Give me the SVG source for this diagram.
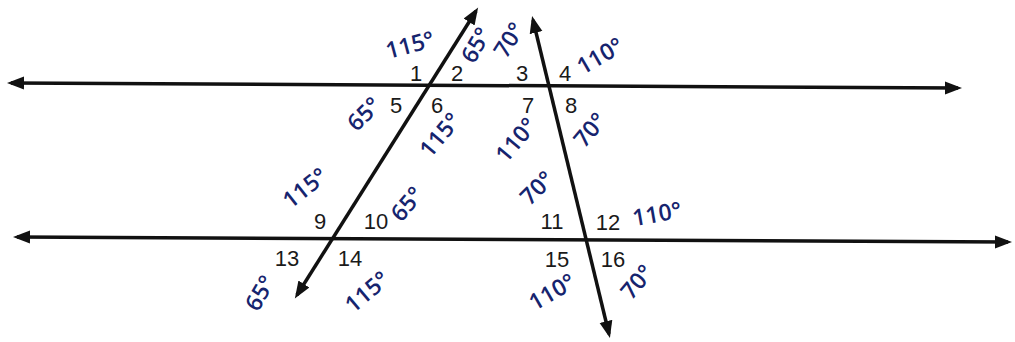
<svg xmlns="http://www.w3.org/2000/svg" width="1015" height="342" viewBox="0 0 1015 342">
<style>
.ln{stroke:#111;stroke-width:3.5;fill:none;marker-start:url(#ah);marker-end:url(#ah)}
.num{font-family:"Liberation Sans",Arial,sans-serif;font-size:22px;fill:#1a1a1a;text-anchor:middle}
.ang{font-family:"Open Sans","Liberation Sans",sans-serif;font-size:23px;font-weight:600;fill:#16246e;text-anchor:middle}
</style>
<defs>
<marker id="ah" markerUnits="userSpaceOnUse" markerWidth="18" markerHeight="14" refX="13" refY="7" orient="auto-start-reverse">
<path d="M0,0.5 L17,7 L0,13.5 z" fill="#111"/>
</marker>
</defs>
<rect width="1015" height="342" fill="#fff"/>
<g id="connectors">
<line id="line-top" class="ln" x1="11" y1="83" x2="958" y2="88"/>
<line id="line-bottom" class="ln" x1="17" y1="237" x2="1008" y2="242"/>
<line id="transversal-1" class="ln" x1="297" y1="295" x2="476" y2="11"/>
<line id="transversal-2" class="ln" x1="533" y1="20" x2="609" y2="334"/>
</g>
<g id="angle-numbers">
<text class="num" x="416" y="81">1</text>
<text class="num" x="457" y="81">2</text>
<text class="num" x="522" y="81">3</text>
<text class="num" x="565" y="81">4</text>
<text class="num" x="396" y="113">5</text>
<text class="num" x="437" y="113">6</text>
<text class="num" x="528" y="113">7</text>
<text class="num" x="571" y="113">8</text>
<text class="num" x="320" y="229">9</text>
<text class="num" x="376" y="229">10</text>
<text class="num" x="552" y="229">11</text>
<text class="num" x="608" y="230">12</text>
<text class="num" x="287" y="266">13</text>
<text class="num" x="350" y="266">14</text>
<text class="num" x="557" y="267">15</text>
<text class="num" x="613" y="267">16</text>
</g>
<g id="angle-measures">
<text class="ang" transform="translate(410,45) rotate(-15)" x="0" y="8">115°</text>
<text class="ang" transform="translate(476,45) rotate(-60)" x="0" y="8">65°</text>
<text class="ang" transform="translate(509,40) rotate(-58)" x="0" y="8">70°</text>
<text class="ang" transform="translate(600,56) rotate(-30)" x="0" y="8">110°</text>
<text class="ang" transform="translate(364,114) rotate(-45)" x="0" y="8">65°</text>
<text class="ang" transform="translate(440,135) rotate(-50)" x="0" y="8">115°</text>
<text class="ang" transform="translate(516,140) rotate(-50)" x="0" y="8">110°</text>
<text class="ang" transform="translate(590,130) rotate(-50)" x="0" y="8">70°</text>
<text class="ang" transform="translate(305,188) rotate(-38)" x="0" y="8">115°</text>
<text class="ang" transform="translate(407,204) rotate(-50)" x="0" y="8">65°</text>
<text class="ang" transform="translate(537,188) rotate(-45)" x="0" y="8">70°</text>
<text class="ang" transform="translate(657,214) rotate(-10)" x="0" y="8">110°</text>
<text class="ang" transform="translate(260,293) rotate(-60)" x="0" y="8">65°</text>
<text class="ang" transform="translate(367,292) rotate(-40)" x="0" y="8">115°</text>
<text class="ang" transform="translate(552,292) rotate(-30)" x="0" y="8">110°</text>
<text class="ang" transform="translate(637,282) rotate(-50)" x="0" y="8">70°</text>
</g>
</svg>
